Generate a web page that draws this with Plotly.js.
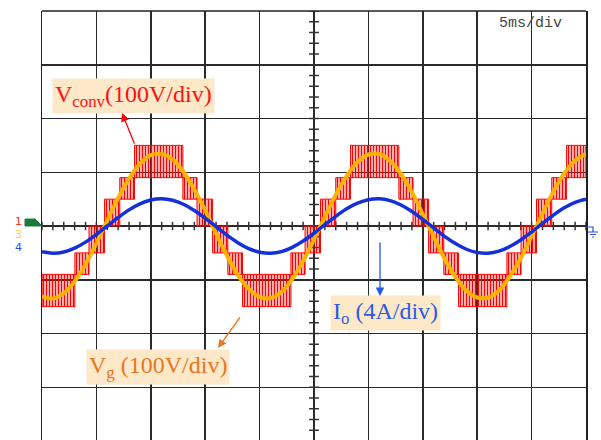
<!DOCTYPE html>
<html>
<head>
<meta charset="utf-8">
<script src="https://cdn.plot.ly/plotly-3.0.1.min.js"></script>
<style>html,body{margin:0;padding:0;background:#fff;}#chart{width:601px;height:440px;}</style>
</head>
<body>
<div id="chart"></div>
<script>
// ---- Data (5 ms/div, 100 V/div, 4 A/div) ----
const timeMs = [0,1,2,3,4,5,6,7,8,9,10,11,12,13,14,15,16,17,18,19,20,21,22,23,24,25,26,27,28,29,30,31,32,33,34,35,36,37,38,39,40,41,42,43,44,45,46,47,48,49,50];
// Grid voltage Vg (V)
const vgVolts = [-131,-135,-125,-103,-71,-32,11,52,88,116,132,134,124,101,68,29,-14,-55,-91,-117,-132,-134,-123,-99,-65,-25,17,58,93,119,133,134,121,97,63,22,-20,-61,-95,-120,-133,-133,-120,-94,-60,-19,23,64,98,122,134];
// Output current Io (A)
const ioAmps = [-1.92,-2.03,-1.94,-1.65,-1.20,-0.63,0.00,0.63,1.20,1.65,1.94,2.03,1.92,1.62,1.16,0.59,-0.05,-0.68,-1.24,-1.68,-1.95,-2.03,-1.91,-1.59,-1.12,-0.54,0.10,0.72,1.28,1.70,1.96,2.03,1.89,1.56,1.08,0.49,-0.14,-0.77,-1.31,-1.73,-1.97,-2.02,-1.87,-1.53,-1.04,-0.45,0.19,0.81,1.35,1.76,1.99];
// Converter voltage Vconv: multilevel PWM bands (start ms, end ms, lower V, upper V)
const bandStart = [0,3.02,4.32,5.75,7.15,8.5,12.95,14.25,15.68,17.08,18.43,22.88,24.18,25.6,27.0,28.35,32.8,34.1,35.53,36.93,38.28,42.73,44.03,45.45,46.85,48.2];
const bandEnd   = [3.02,4.32,5.75,7.15,8.5,12.95,14.25,15.68,17.08,18.43,22.88,24.18,25.6,27.0,28.35,32.8,34.1,35.53,36.93,38.28,42.73,44.03,45.45,46.85,48.2,50];
const bandLow   = [-150,-90,-50,0,50,90,50,0,-50,-90,-150,-90,-50,0,50,90,50,0,-50,-90,-150,-90,-50,0,50,90];
const bandHigh  = [-90,-50,0,50,90,150,90,50,0,-50,-90,-50,0,50,90,150,90,50,0,-50,-90,-50,0,50,90,150];

// ---- Layout geometry ----
const W = 601, H = 440, ML = 42, MR = 15, MT = 11, MB = 0;
const PW = W - ML - MR, PH = H - MT - MB;
const X0 = 0, X1 = 50, Y1 = 400, Y0 = 400 - PH / 53.75 * 100;
const px2x = p => X0 + (p - ML) / PW * (X1 - X0);
const py2y = p => Y1 - (p - MT) / PH * (Y1 - Y0);
const px2paper = p => (p - ML) / PW;
const py2paper = p => 1 - (p - MT) / PH;

// Build Vconv band polygons
const bx = [], by = [];
for (let i = 0; i < bandStart.length; i++) {
  bx.push(bandStart[i], bandEnd[i], bandEnd[i], bandStart[i], bandStart[i], null);
  by.push(bandLow[i], bandLow[i], bandHigh[i], bandHigh[i], bandLow[i], null);
}

// Graticule ticks on centre lines
const tickHx = [], tickHy = [];
for (let t = 0; t <= 50; t += 1) { tickHx.push(t); tickHy.push(0); }
const tickVx = [], tickVy = [];
for (let v = -380; v <= 400; v += 20) { tickVx.push(25); tickVy.push(v); }

const traces = [
  { x: tickHx, y: tickHy, mode: 'markers', hoverinfo: 'skip', showlegend: false,
    marker: { symbol: 'line-ns', size: 6, line: { width: 1.5, color: '#333' } } },
  { x: tickVx, y: tickVy, mode: 'markers', hoverinfo: 'skip', showlegend: false,
    marker: { symbol: 'line-ew', size: 7, line: { width: 1.5, color: '#333' } } },
  { x: bx, y: by, mode: 'lines', fill: 'toself', name: 'Vconv', showlegend: false,
    line: { color: '#FF0000', width: 1 },
    fillcolor: 'rgba(255,0,0,0.15)',
    fillpattern: { shape: '|', fgcolor: '#FF0000', bgcolor: 'rgba(0,0,0,0)', size: 3, solidity: 0.55 } },
  { x: timeMs, y: ioAmps, yaxis: 'y2', mode: 'lines', name: 'Io', showlegend: false,
    line: { color: '#1430D8', width: 3.5, shape: 'spline' } },
  { x: timeMs, y: vgVolts, mode: 'lines', name: 'Vg', showlegend: false,
    line: { color: '#FFB300', width: 4, shape: 'spline' } }
];

const labelBg = '#FDE8C8';
const serif = 'Liberation Serif, Times New Roman, serif';
const chFont = 'DejaVu Sans, sans-serif';
const annotations = [
  { x: px2x(133.5), y: py2y(96), text: 'V<sub>conv</sub>(100V/div)', showarrow: false, xanchor: 'center', yanchor: 'middle',
    font: { family: serif, size: 24, color: '#FF1010' }, bgcolor: labelBg, borderpad: 2 },
  { x: px2x(385), y: py2y(313), text: 'I<sub>o</sub> (4A/div)', showarrow: false, xanchor: 'center', yanchor: 'middle',
    font: { family: serif, size: 24, color: '#2D5BE3' }, bgcolor: labelBg, borderpad: 2 },
  { x: px2x(157.5), y: py2y(367), text: 'V<sub>g</sub> (100V/div)', showarrow: false, xanchor: 'center', yanchor: 'middle',
    font: { family: serif, size: 24, color: '#E8771E' }, bgcolor: labelBg, borderpad: 2 },
  { x: px2x(122), y: py2y(113), ax: 13, ay: 32, text: '', showarrow: true,
    arrowhead: 2, arrowsize: 1.3, arrowwidth: 1.3, arrowcolor: '#FF0000' },
  { x: px2x(380), y: py2y(296), ax: 0, ay: -55, text: '', showarrow: true,
    arrowhead: 2, arrowsize: 1.3, arrowwidth: 1.3, arrowcolor: '#2255EE' },
  { x: px2x(218), y: py2y(348), ax: 23, ay: -32, text: '', showarrow: true,
    arrowhead: 2, arrowsize: 1.3, arrowwidth: 1.3, arrowcolor: '#E8761A' },
  { xref: 'paper', yref: 'paper', x: px2paper(530), y: py2paper(23), text: '5ms/div', showarrow: false,
    xanchor: 'center', yanchor: 'middle',
    font: { family: 'Liberation Mono, Courier New, monospace', size: 15, color: '#444' } },
  { xref: 'paper', yref: 'paper', x: px2paper(18), y: py2paper(221), text: '1', showarrow: false,
    xanchor: 'center', yanchor: 'middle', borderpad: 0,
    font: { family: chFont, size: 11, color: '#FF3030' } },
  { xref: 'paper', yref: 'paper', x: px2paper(18), y: py2paper(234), text: '3', showarrow: false,
    xanchor: 'center', yanchor: 'middle', borderpad: 0,
    font: { family: chFont, size: 11, color: '#F0D060' } },
  { xref: 'paper', yref: 'paper', x: px2paper(18), y: py2paper(247.5), text: '4', showarrow: false,
    xanchor: 'center', yanchor: 'middle', borderpad: 0,
    font: { family: chFont, size: 11, color: '#3050E0' } }
];

const P = (x, y) => px2paper(x).toFixed(5) + ',' + py2paper(y).toFixed(5);
const shapes = [
  { type: 'line', xref: 'paper', yref: 'paper', x0: 0, x1: 1, y0: 1, y1: 1, line: { color: '#222', width: 1.5 } },
  { type: 'path', xref: 'paper', yref: 'paper',
    path: 'M' + P(25, 219) + 'L' + P(35, 219) + 'L' + P(42, 226) + 'L' + P(25, 226) + 'Z',
    fillcolor: '#1E7A3A', line: { color: '#1E7A3A', width: 1 } },
  { type: 'path', xref: 'paper', yref: 'paper',
    path: 'M' + P(586, 227) + 'L' + P(593, 227) + 'L' + P(593, 232) +
          'M' + P(588, 232) + 'L' + P(598, 232) +
          'M' + P(590, 234.5) + 'L' + P(596, 234.5) +
          'M' + P(592, 237) + 'L' + P(594, 237),
    line: { color: '#3050E0', width: 1.2 } }
];

const layout = {
  width: W, height: H,
  margin: { l: ML, r: MR, t: MT, b: MB, pad: 0 },
  paper_bgcolor: '#fff', plot_bgcolor: '#fff',
  showlegend: false,
  xaxis: { range: [X0, X1], dtick: 5, tick0: 0, showgrid: true, gridcolor: '#2a2a2a', gridwidth: 1.5,
           zeroline: false, showticklabels: false, ticks: '', showline: false, fixedrange: true },
  yaxis: { range: [Y0, Y1], dtick: 100, tick0: 0, showgrid: true, gridcolor: '#2a2a2a', gridwidth: 1.5,
           zeroline: false, showticklabels: false, ticks: '', showline: true, mirror: true,
           linecolor: '#222', linewidth: 1.5, fixedrange: true },
  yaxis2: { range: [Y0 / 25, Y1 / 25], overlaying: 'y', showgrid: false, zeroline: false,
            showticklabels: false, ticks: '', showline: false, fixedrange: true },
  annotations: annotations,
  shapes: shapes
};

Plotly.newPlot('chart', traces, layout, { staticPlot: true, displayModeBar: false });
</script>
</body>
</html>
